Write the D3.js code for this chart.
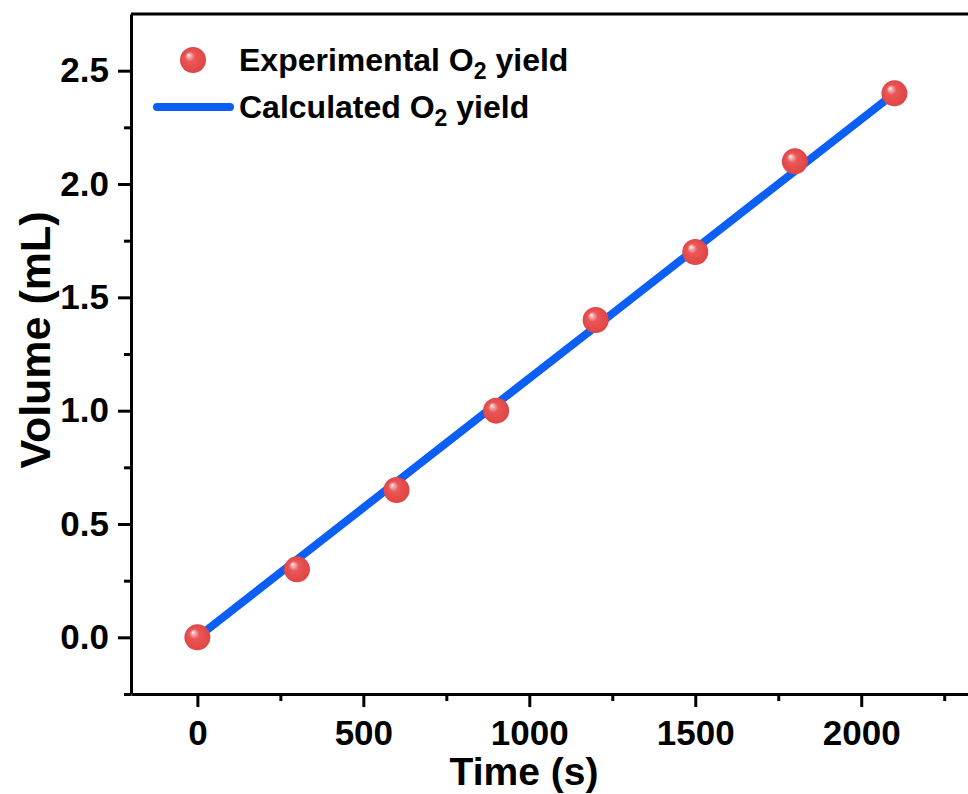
<!DOCTYPE html>
<html>
<head>
<meta charset="utf-8">
<script src="https://cdn.jsdelivr.net/npm/d3@7"></script>
<style>
  html, body { margin: 0; padding: 0; background: #fff; }
  text { font-family: "Liberation Sans", Arial, sans-serif; font-weight: bold; fill: #000; }
</style>
</head>
<body>
<div id="chart"></div>
<script>
"use strict";

// measured O2 volume over time
const expTime = [0, 300, 600, 900, 1200, 1500, 1800, 2100];
const expVolume = [0, 0.30, 0.65, 1.00, 1.40, 1.70, 2.10, 2.40];

// theoretical O2 volume from the charge passed
const calcTime = [0, 300, 600, 900, 1200, 1500, 1800, 2100];
const calcVolume = [0, 0.343, 0.686, 1.029, 1.371, 1.714, 2.057, 2.40];

const xTicks = [0, 500, 1000, 1500, 2000];
const xMinorTicks = [250, 750, 1250, 1750, 2250];
const yTicks = [0, 0.5, 1.0, 1.5, 2.0, 2.5];
const yMinorTicks = [-0.25, 0.25, 0.75, 1.25, 1.75, 2.25];

const width = 968, height = 794;

const svg = d3.select("#chart").append("svg")
    .attr("width", width).attr("height", height);

var xScale = d3.scaleLinear().domain([-200, 2400]).range([131, 994]);
var yScale = d3.scaleLinear().domain([-0.25, 2.75]).range([694, 14]);

// shiny red sphere for the markers
const defs = svg.append("defs");
const grad = defs.append("radialGradient")
    .attr("id", "ball")
    .attr("cx", "50%").attr("cy", "50%").attr("r", "50%")
    .attr("fx", "32%").attr("fy", "30%");
grad.append("stop").attr("offset", "0%").attr("stop-color", "#ffffff");
grad.append("stop").attr("offset", "14%").attr("stop-color", "#f6b2b2");
grad.append("stop").attr("offset", "38%").attr("stop-color", "#ea5656");
grad.append("stop").attr("offset", "100%").attr("stop-color", "#e04444");

// frame (top and right edges; right one falls off the page)
svg.append("line")
    .attr("x1", xScale(-200)).attr("x2", xScale(2400))
    .attr("y1", yScale(2.75)).attr("y2", yScale(2.75))
    .attr("stroke", "#000").attr("stroke-width", 3);
svg.append("line")
    .attr("x1", xScale(2400)).attr("x2", xScale(2400))
    .attr("y1", yScale(2.75)).attr("y2", yScale(-0.25))
    .attr("stroke", "#000").attr("stroke-width", 3);

// x axis
svg.append("g")
    .attr("transform", "translate(0," + yScale(-0.25) + ")")
    .call(d3.axisBottom(xScale).tickValues(xTicks).tickSize(13).tickPadding(13)
        .tickSizeOuter(0).tickFormat(d3.format("d")));
svg.append("g")
    .attr("transform", "translate(0," + yScale(-0.25) + ")")
    .call(d3.axisBottom(xScale).tickValues(xMinorTicks).tickSize(7).tickSizeOuter(0).tickFormat(""))
    .select(".domain").remove();

// y axis
svg.append("g")
    .attr("transform", "translate(" + xScale(-200) + ",0)")
    .call(d3.axisLeft(yScale).tickValues(yTicks).tickSize(13).tickPadding(9)
        .tickSizeOuter(0).tickFormat(d3.format(".1f")));
svg.append("g")
    .attr("transform", "translate(" + xScale(-200) + ",0)")
    .call(d3.axisLeft(yScale).tickValues(yMinorTicks).tickSize(7).tickSizeOuter(0).tickFormat(""))
    .select(".domain").remove();

svg.selectAll(".domain").attr("stroke-width", 3).attr("stroke", "#000");
svg.selectAll(".tick line").attr("stroke-width", 3).attr("stroke", "#000");
svg.selectAll(".tick text")
    .attr("font-size", 35).attr("font-family", "Liberation Sans, Arial, sans-serif")
    .attr("font-weight", "bold").attr("fill", "#000");

// axis titles
svg.append("text")
    .attr("x", 524).attr("y", 785)
    .attr("text-anchor", "middle")
    .attr("font-size", 39)
    .text("Time (s)");
svg.append("text")
    .attr("transform", "translate(50,340) rotate(-90)")
    .attr("text-anchor", "middle")
    .attr("font-size", 43)
    .text("Volume (mL)");

// calculated line
const line = d3.line()
    .x((d, i) => xScale(calcTime[i]))
    .y(d => yScale(d));
svg.append("path")
    .datum(calcVolume)
    .attr("d", line)
    .attr("fill", "none")
    .attr("stroke", "#0b5ff4")
    .attr("stroke-width", 8);

// experimental points
svg.selectAll(".pt")
    .data(expVolume)
    .enter()
    .append("circle")
    .attr("class", "pt")
    .attr("cx", (d, i) => xScale(expTime[i]))
    .attr("cy", d => yScale(d))
    .attr("r", 13)
    .attr("fill", "url(#ball)");

// legend
const legend = svg.append("g");
legend.append("circle")
    .attr("cx", 193).attr("cy", 60).attr("r", 13)
    .attr("fill", "url(#ball)");
legend.append("line")
    .attr("x1", 157).attr("x2", 230).attr("y1", 107).attr("y2", 107)
    .attr("stroke", "#0b5ff4").attr("stroke-width", 8).attr("stroke-linecap", "round");

function legendLabel(txt, y) {
    const t = legend.append("text").attr("x", 239).attr("y", y).attr("font-size", 32);
    t.append("tspan").text(txt + " O");
    t.append("tspan").attr("font-size", 23).attr("dy", 8).text("2");
    t.append("tspan").attr("dy", -8).text(" yield");
}
legendLabel("Experimental", 71);
legendLabel("Calculated", 118);
</script>
</body>
</html>
